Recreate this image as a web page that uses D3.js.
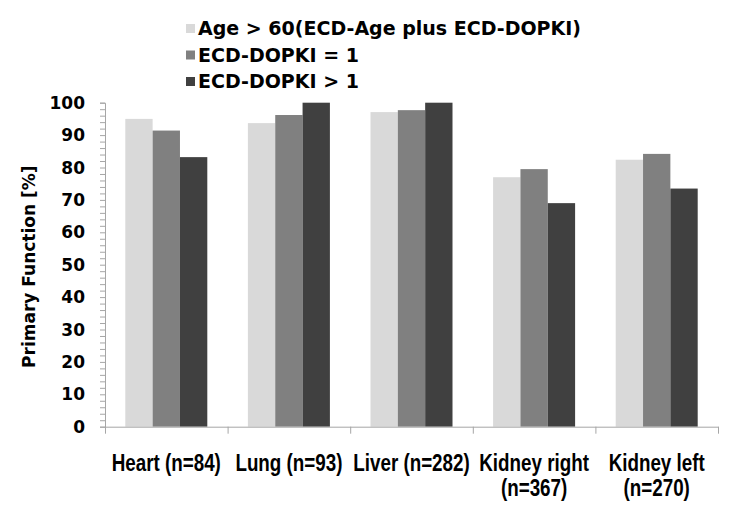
<!DOCTYPE html>
<html>
<head>
<meta charset="utf-8">
<script src="https://cdn.jsdelivr.net/npm/d3@7"></script>
<style>
  body { margin: 0; background: #fff; }
  svg { display: block; }
</style>
</head>
<body>
<div id="chart"></div>
<script>
// Data
const organs = ["Heart (n=84)", "Lung (n=93)", "Liver (n=282)", "Kidney right (n=367)", "Kidney left (n=270)"];
const organLines = [["Heart (n=84)"], ["Lung (n=93)"], ["Liver (n=282)"], ["Kidney right", "(n=367)"], ["Kidney left", "(n=270)"]];
const seriesNames = ["Age > 60(ECD-Age plus ECD-DOPKI)", "ECD-DOPKI = 1", "ECD-DOPKI > 1"];
const ageOver60 = [95.0, 93.7, 97.1, 77.0, 82.4];
const dopkiEq1 = [91.4, 96.2, 97.7, 79.5, 84.2];
const dopkiGt1 = [83.2, 100, 100, 69.0, 73.5];
const yTicks = [0, 10, 20, 30, 40, 50, 60, 70, 80, 90, 100];

const colors = ["#d9d9d9", "#808080", "#404040"];
const seriesValues = [ageOver60, dopkiEq1, dopkiGt1];

const width = 740, height = 520;
const margin = { top: 102.7, right: 22, bottom: 93.3, left: 105 };

const svg = d3.select("#chart")
  .append("svg")
  .attr("width", width)
  .attr("height", height);

// Scales
const x = d3.scaleBand()
  .domain(organs)
  .range([margin.left, width - margin.right])
  .padding(0);

const xInner = d3.scaleBand()
  .domain(d3.range(seriesNames.length))
  .range([20.3, x.bandwidth() - 20.3])
  .padding(0);

const y = d3.scaleLinear()
  .domain([0, 100])
  .range([height - margin.bottom, margin.top]);

// Bars
const groups = svg.append("g")
  .selectAll("g")
  .data(organs)
  .enter()
  .append("g")
  .attr("transform", d => `translate(${x(d)},0)`);

groups.selectAll("rect")
  .data((d, i) => seriesValues.map((vals, s) => ({ s: s, v: vals[i] })))
  .enter()
  .append("rect")
  .attr("x", d => xInner(d.s))
  .attr("width", xInner.bandwidth())
  .attr("y", d => y(d.v))
  .attr("height", d => y(0) - y(d.v))
  .attr("fill", d => colors[d.s]);

// Y axis with minor ticks
const axisColor = "#a6a6a6";
const yAxisG = svg.append("g")
  .attr("transform", `translate(${margin.left},0)`)
  .call(d3.axisLeft(y).tickValues(d3.range(0, 101, 2)).tickSize(5).tickFormat(""));
yAxisG.select(".domain").attr("stroke", axisColor);
yAxisG.selectAll(".tick line").attr("stroke", axisColor);

svg.append("g")
  .selectAll("text")
  .data(yTicks)
  .enter()
  .append("text")
  .attr("x", 85)
  .attr("y", d => y(d))
  .attr("dy", "0.36em")
  .attr("text-anchor", "end")
  .attr("font-family", "DejaVu Sans, sans-serif")
  .attr("font-weight", "bold")
  .attr("font-size", "17px")
  .attr("fill", "#000")
  .text(d => d);

// X axis: line with ticks at category boundaries
const xAxisG = svg.append("g")
  .attr("transform", `translate(0,${y(0)})`)
  .call(d3.axisBottom(d3.scaleLinear().domain([0, organs.length]).range([margin.left, width - margin.right]))
    .tickValues(d3.range(0, organs.length + 1))
    .tickSize(7)
    .tickSizeOuter(0)
    .tickFormat(""));
xAxisG.select(".domain").attr("stroke", axisColor);
xAxisG.selectAll(".tick line").attr("stroke", axisColor);

// X labels (condensed bold look: Liberation Sans bold squeezed horizontally)
const xLabels = svg.append("g")
  .selectAll("g")
  .data(organs)
  .enter()
  .append("g")
  .attr("transform", d => `translate(${x(d) + x.bandwidth() / 2},471) scale(0.8,1)`)
  .append("text")
  .attr("text-anchor", "middle")
  .attr("font-family", "'Liberation Sans', Arial, sans-serif")
  .attr("font-weight", "bold")
  .attr("font-size", "23.5px")
  .attr("fill", "#000");

xLabels.selectAll("tspan")
  .data((d, i) => organLines[i])
  .enter()
  .append("tspan")
  .attr("x", 0)
  .attr("dy", (d, i) => i === 0 ? 0 : 25)
  .text(d => d);

// Y axis title
svg.append("text")
  .attr("transform", `translate(35,${(margin.top + y(0)) / 2 + 2}) rotate(-90)`)
  .attr("text-anchor", "middle")
  .attr("font-family", "DejaVu Sans, sans-serif")
  .attr("font-weight", "bold")
  .attr("font-size", "17px")
  .attr("fill", "#000")
  .text("Primary Function [%]");

// Legend
const legend = svg.append("g")
  .selectAll("g")
  .data(seriesNames)
  .enter()
  .append("g")
  .attr("transform", (d, i) => `translate(186,${35 + i * 26.5})`);

legend.append("rect")
  .attr("x", 0)
  .attr("y", -11)
  .attr("width", 9)
  .attr("height", 9)
  .attr("fill", (d, i) => colors[i]);

legend.append("text")
  .attr("x", 12)
  .attr("y", 0)
  .attr("font-family", "DejaVu Sans, sans-serif")
  .attr("font-weight", "bold")
  .attr("font-size", "19px")
  .attr("fill", "#000")
  .text(d => d);
</script>
</body>
</html>
